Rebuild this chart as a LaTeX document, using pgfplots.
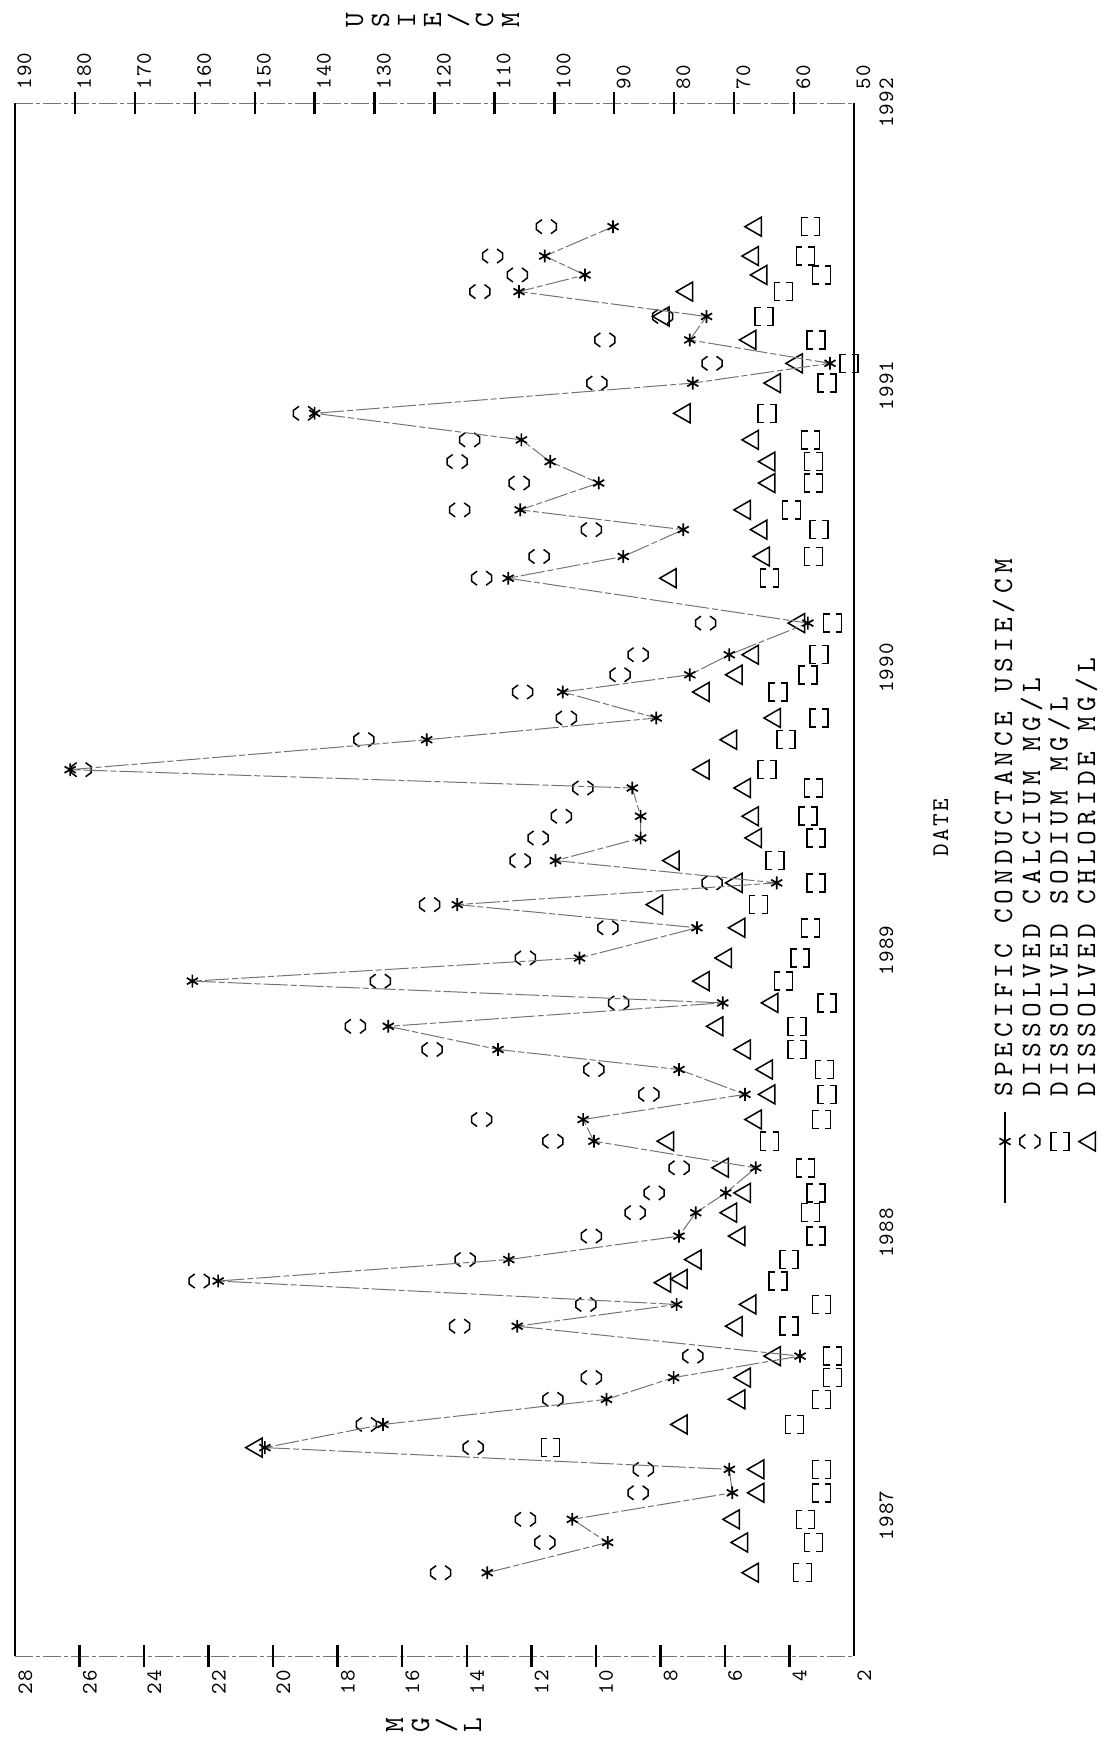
\documentclass[border=0pt]{standalone}
\usepackage{fontspec}
\usepackage{pgfplots}
\pgfplotsset{compat=1.18}
\usepackage{pgfplotstable}

\newfontfamily\tickfam{lmmono10-regular}[Extension=.otf, LetterSpace=5.5]
\newfontfamily\legfam{lmmono10-regular}[Extension=.otf, LetterSpace=18]
\newfontfamily\datefam{lmmono10-regular}[Extension=.otf, LetterSpace=10]
\newcommand\ticklab{\tickfam\fontsize{11}{12}\selectfont}
\newcommand\leglab{\legfam\fontsize{14}{15}\selectfont}
\newcommand\datelab{\datefam\fontsize{12}{13}\selectfont}

% calcium mark: broken octagon "{ }"
\pgfdeclareplotmark{cabr}{%
  \pgfpathmoveto{\pgfqpoint{-0.45\pgfplotmarksize}{0.7\pgfplotmarksize}}%
  \pgfpathlineto{\pgfqpoint{-1\pgfplotmarksize}{0.3\pgfplotmarksize}}%
  \pgfpathlineto{\pgfqpoint{-1\pgfplotmarksize}{-0.3\pgfplotmarksize}}%
  \pgfpathlineto{\pgfqpoint{-0.45\pgfplotmarksize}{-0.7\pgfplotmarksize}}%
  \pgfpathmoveto{\pgfqpoint{0.45\pgfplotmarksize}{0.7\pgfplotmarksize}}%
  \pgfpathlineto{\pgfqpoint{1\pgfplotmarksize}{0.3\pgfplotmarksize}}%
  \pgfpathlineto{\pgfqpoint{1\pgfplotmarksize}{-0.3\pgfplotmarksize}}%
  \pgfpathlineto{\pgfqpoint{0.45\pgfplotmarksize}{-0.7\pgfplotmarksize}}%
  \pgfusepathqstroke}
% sodium mark: "[ ]"
\pgfdeclareplotmark{nabr}{%
  \pgfpathmoveto{\pgfqpoint{-0.35\pgfplotmarksize}{1\pgfplotmarksize}}%
  \pgfpathlineto{\pgfqpoint{-1\pgfplotmarksize}{1\pgfplotmarksize}}%
  \pgfpathlineto{\pgfqpoint{-1\pgfplotmarksize}{-1\pgfplotmarksize}}%
  \pgfpathlineto{\pgfqpoint{-0.35\pgfplotmarksize}{-1\pgfplotmarksize}}%
  \pgfpathmoveto{\pgfqpoint{0.35\pgfplotmarksize}{1\pgfplotmarksize}}%
  \pgfpathlineto{\pgfqpoint{1\pgfplotmarksize}{1\pgfplotmarksize}}%
  \pgfpathlineto{\pgfqpoint{1\pgfplotmarksize}{-1\pgfplotmarksize}}%
  \pgfpathlineto{\pgfqpoint{0.35\pgfplotmarksize}{-1\pgfplotmarksize}}%
  \pgfusepathqstroke}

% Specific conductance (uS/cm)
\pgfplotstableread{
t c
1986.795 111.2
1986.902 91.1
1986.984 97.0
1987.078 70.3
1987.161 70.8
1987.238 148.3
1987.320 128.6
1987.409 91.3
1987.486 80.1
1987.562 59.0
1987.668 106.2
1987.745 79.6
1987.828 156.1
1987.904 107.6
1987.987 79.2
1988.070 76.4
1988.140 71.4
1988.229 66.4
1988.323 93.4
1988.400 95.2
1988.489 68.2
1988.577 79.2
1988.648 109.4
1988.730 127.7
1988.813 71.9
1988.890 160.4
1988.972 95.8
1989.079 76.2
1989.161 116.2
1989.238 62.9
1989.317 99.8
1989.397 85.6
1989.474 85.6
1989.574 87.0
1989.639 180.8
1989.745 121.3
1989.822 83.0
1989.914 98.6
1989.975 77.4
1990.046 70.8
1990.158 57.7
1990.317 107.7
1990.394 88.5
1990.489 78.5
1990.559 105.7
1990.654 92.6
1990.730 100.7
1990.807 105.5
1990.901 140.0
1991.008 76.9
1991.078 54.0
1991.161 77.4
1991.244 74.6
1991.332 105.9
1991.391 94.9
1991.458 101.6
1991.562 90.2
}\condtab

% Dissolved calcium (mg/L)
\pgfplotstableread{
t v
1986.795 14.81
1986.902 11.58
1986.984 12.18
1987.078 8.69
1987.161 8.53
1987.238 13.80
1987.320 17.11
1987.409 11.33
1987.486 10.14
1987.562 6.99
1987.668 14.22
1987.745 10.31
1987.828 22.29
1987.904 14.05
1987.987 10.14
1988.070 8.78
1988.140 8.19
1988.229 7.42
1988.323 11.33
1988.400 13.54
1988.489 8.36
1988.577 10.06
1988.648 15.07
1988.730 17.45
1988.813 9.29
1988.890 16.68
1988.972 12.18
1989.079 9.63
1989.161 15.15
1989.238 6.40
1989.317 12.35
1989.397 11.79
1989.474 11.07
1989.574 10.40
1989.639 25.95
1989.745 17.19
1989.822 10.91
1989.914 12.27
1989.975 9.25
1990.046 8.69
1990.158 6.60
1990.317 13.54
1990.394 11.76
1990.489 10.14
1990.559 14.22
1990.654 12.38
1990.730 14.30
1990.807 13.91
1990.901 19.06
1991.008 9.97
1991.078 6.40
1991.161 9.72
1991.244 7.93
1991.332 13.59
1991.391 12.43
1991.458 13.20
1991.562 11.53
}\catab

% Dissolved sodium (mg/L)
\pgfplotstableread{
t v
1986.795 3.60
1986.902 3.26
1986.984 3.51
1987.078 3.00
1987.161 3.00
1987.238 11.41
1987.320 3.85
1987.409 3.00
1987.486 2.66
1987.562 2.66
1987.668 4.02
1987.745 3.00
1987.828 4.36
1987.904 4.02
1987.987 3.17
1988.070 3.34
1988.140 3.17
1988.229 3.51
1988.323 4.62
1988.400 3.00
1988.489 2.83
1988.577 2.92
1988.648 3.77
1988.730 3.77
1988.813 2.83
1988.890 4.19
1988.972 3.68
1989.079 3.34
1989.161 4.96
1989.238 3.17
1989.317 4.45
1989.397 3.17
1989.474 3.43
1989.574 3.26
1989.639 4.70
1989.745 4.11
1989.822 3.09
1989.914 4.36
1989.975 3.43
1990.046 3.09
1990.158 2.66
1990.317 4.62
1990.394 3.26
1990.489 3.09
1990.559 3.94
1990.654 3.26
1990.730 3.26
1990.807 3.34
1990.901 4.70
1991.008 2.83
1991.078 2.15
1991.161 3.17
1991.244 4.79
1991.332 4.19
1991.391 3.00
1991.458 3.51
1991.562 3.34
}\natab

% Dissolved chloride (mg/L)
\pgfplotstableread{
t v
1986.795 5.13
1986.902 5.47
1986.984 5.72
1987.078 4.96
1987.161 4.96
1987.238 20.51
1987.320 7.34
1987.409 5.55
1987.486 5.38
1987.562 4.45
1987.668 5.64
1987.745 5.21
1987.822 7.85
1987.835 7.34
1987.904 6.91
1987.987 5.55
1988.070 5.81
1988.140 5.38
1988.229 6.06
1988.323 7.76
1988.400 5.04
1988.489 4.62
1988.577 4.70
1988.648 5.38
1988.730 6.23
1988.813 4.53
1988.890 6.66
1988.972 5.97
1989.079 5.55
1989.161 8.10
1989.238 5.64
1989.317 7.59
1989.397 5.04
1989.474 5.13
1989.574 5.38
1989.639 6.66
1989.745 5.81
1989.822 4.45
1989.914 6.66
1989.975 5.64
1990.046 5.13
1990.158 3.70
1990.317 7.68
1990.394 4.79
1990.489 4.87
1990.559 5.38
1990.654 4.62
1990.730 4.62
1990.807 5.13
1990.901 7.25
1991.008 4.45
1991.078 3.77
1991.161 5.21
1991.244 7.90
1991.332 7.17
1991.391 4.87
1991.458 5.13
1991.562 5.04
}\cltab

\begin{document}
\begin{tikzpicture}
\path[use as bounding box] (0pt,0pt) rectangle (556.5pt,870pt);

\begin{scope}[x=0.5pt,y=0.5pt]
% ---- frame ----
\draw[black!55, line width=0.45pt, dash pattern=on 9pt off 1.5pt on 2pt off 1.5pt] (15,84) -- (854,84);
\draw[black!55, line width=0.45pt, dash pattern=on 9pt off 1.5pt on 2pt off 1.5pt] (15,1637) -- (854,1637);
\draw[line width=1.4pt] (15,84) -- (15,1637);
\draw[line width=1.4pt] (854,84) -- (854,1637);

% ---- MG/L ticks (bottom) ----
\foreach \v in {4,6,...,26} {
  \pgfmathsetmacro\xx{15+(28-\v)*32.2692}
  \draw[line width=1.2pt] (\xx,73) -- (\xx,95);
}
\foreach \v in {2,4,...,28} {
  \pgfmathsetmacro\xx{15+(28-\v)*32.2692}
  \node[rotate=90, anchor=base east, inner sep=0pt, font=\ticklab] at (\xx+17,70) {\v};
}
% ---- USIE/CM ticks (top) ----
\foreach \c in {60,70,...,180} {
  \pgfmathsetmacro\xx{15+(190-\c)*5.99286}
  \draw[line width=1.2pt] (\xx,1626) -- (\xx,1648);
}
\foreach \c in {50,60,...,190} {
  \pgfmathsetmacro\xx{15+(190-\c)*5.99286}
  \node[rotate=90, anchor=base west, inner sep=0pt, font=\ticklab] at (\xx+16,1650) {\c};
}
% ---- years ----
\foreach \yr in {1987,1988,1989,1990,1991,1992} {
  \pgfmathsetmacro\yy{1740-(103+(1992-\yr)*282.5)}
  \node[rotate=90, anchor=base, inner sep=0pt, font=\ticklab] at (893,\yy) {\yr};
}
% ---- axis titles ----
\node[rotate=90, anchor=base, inner sep=0pt, font=\leglab] at (403,15) {M};
\node[rotate=90, anchor=base, inner sep=0pt, font=\leglab] at (429,15) {G};
\node[rotate=90, anchor=base, inner sep=0pt, font=\leglab] at (455,15) {/};
\node[rotate=90, anchor=base, inner sep=0pt, font=\leglab] at (481,15) {L};
\node[rotate=90, anchor=base, inner sep=0pt, font=\leglab] at (363,1720) {U};
\node[rotate=90, anchor=base, inner sep=0pt, font=\leglab] at (389,1720) {S};
\node[rotate=90, anchor=base, inner sep=0pt, font=\leglab] at (415,1720) {I};
\node[rotate=90, anchor=base, inner sep=0pt, font=\leglab] at (441,1720) {E};
\node[rotate=90, anchor=base, inner sep=0pt, font=\leglab] at (467,1720) {/};
\node[rotate=90, anchor=base, inner sep=0pt, font=\leglab] at (493,1720) {C};
\node[rotate=90, anchor=base, inner sep=0pt, font=\leglab] at (519,1720) {M};

% ---- x-axis title and legend text ----
\node[rotate=90, anchor=base, inner sep=0pt, font=\datelab] at (948,912) {DATE};
\node[rotate=90, anchor=base west, inner sep=0pt, font=\leglab] at (1012,643) {SPECIFIC CONDUCTANCE USIE/CM};
\node[rotate=90, anchor=base west, inner sep=0pt, font=\leglab] at (1040,643) {DISSOLVED CALCIUM MG/L};
\node[rotate=90, anchor=base west, inner sep=0pt, font=\leglab] at (1067.5,643) {DISSOLVED SODIUM MG/L};
\node[rotate=90, anchor=base west, inner sep=0pt, font=\leglab] at (1095,643) {DISSOLVED CHLORIDE MG/L};
\end{scope}

% ---- concentrations (mg/L) ----
\begin{axis}[at={(7.5pt,42pt)}, anchor=south west, scale only axis,
  width=419.5pt, height=776.5pt, x dir=reverse,
  xmin=2, xmax=28, ymin=1986.5, ymax=1992,
  axis line style={draw=none}, ticks=none, clip=false]
\addplot[only marks, mark=cabr, mark size=5pt, black, line width=0.75pt] table[x=v, y=t] {\catab};
\addplot[only marks, mark=nabr, mark size=4.5pt, black, line width=0.75pt] table[x=v, y=t] {\natab};
\addplot[only marks, mark=triangle, mark size=5.5pt, black, line width=0.75pt, mark options={rotate=90}] table[x=v, y=t] {\cltab};
% legend samples
\addplot[forget plot, black, line width=0.8pt] coordinates {(-2.68,1988.425) (-2.68,1988.106)};
\addplot[forget plot, only marks, mark=asterisk, mark size=3.2pt, black, line width=0.8pt] coordinates {(-2.68,1988.322)};
\addplot[forget plot, only marks, mark=cabr, mark size=5pt, black, line width=0.75pt] coordinates {(-3.45,1988.322)};
\addplot[forget plot, only marks, mark=nabr, mark size=4.5pt, black, line width=0.75pt] coordinates {(-4.38,1988.322)};
\addplot[forget plot, only marks, mark=triangle, mark size=5.5pt, black, line width=0.75pt, mark options={rotate=90}] coordinates {(-5.31,1988.322)};
\end{axis}

% ---- specific conductance (uS/cm) ----
\begin{axis}[at={(7.5pt,42pt)}, anchor=south west, scale only axis,
  width=419.5pt, height=776.5pt, x dir=reverse,
  xmin=50, xmax=190, ymin=1986.5, ymax=1992,
  axis line style={draw=none}, ticks=none, clip=false]
\addplot[black!55, line width=0.5pt, dash pattern=on 12pt off 1.5pt on 3pt off 1.5pt,
  mark=asterisk, mark size=3.2pt,
  mark options={black, solid, line width=0.85pt}] table[x=c, y=t] {\condtab};
\end{axis}
\end{tikzpicture}
\end{document}
